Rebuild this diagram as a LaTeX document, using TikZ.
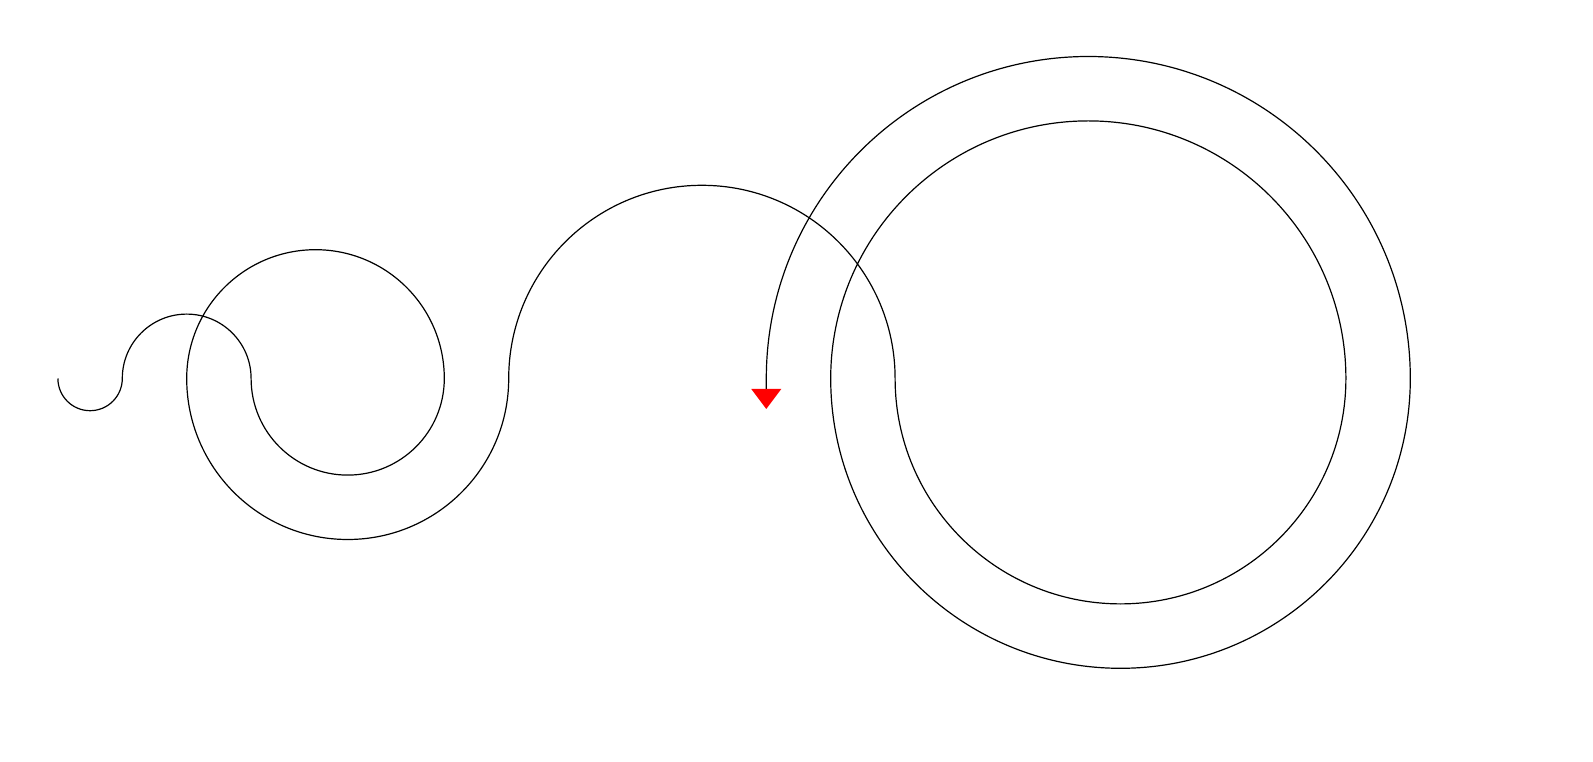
\documentclass[tikz,border=0pt]{standalone}
\usetikzlibrary{calc}
\begin{document}
\begin{tikzpicture}[x=1pt,y=1pt,
  spiral/.style={draw=black,line width=1.2pt,line join=round},
  tiptri/.style={fill=red,draw=none}]
\useasboundingbox[fill=white] (0,0) rectangle (1593,761);
\def\u{32.2}
\coordinate (s) at (57.9,382.5);
\draw[spiral] (s)
  arc[start angle=180,end angle=360,radius=1*\u pt]
  arc[start angle=180,end angle=0,radius=2*\u pt]
  arc[start angle=180,end angle=360,radius=3*\u pt]
  arc[start angle=0,end angle=180,radius=4*\u pt]
  arc[start angle=180,end angle=360,radius=5*\u pt]
  arc[start angle=180,end angle=0,radius=6*\u pt]
  arc[start angle=180,end angle=360,radius=7*\u pt]
  arc[start angle=0,end angle=180,radius=8*\u pt]
  arc[start angle=180,end angle=360,radius=9*\u pt]
  arc[start angle=0,end angle=180,radius=10*\u pt]
  coordinate (e) -- ++(0,-10.5) coordinate (b);
\fill[tiptri] ($(b)+(-15,0)$) -- ($(b)+(15,0)$) -- ($(b)+(0,-20)$) -- cycle;
\end{tikzpicture}
\end{document}
